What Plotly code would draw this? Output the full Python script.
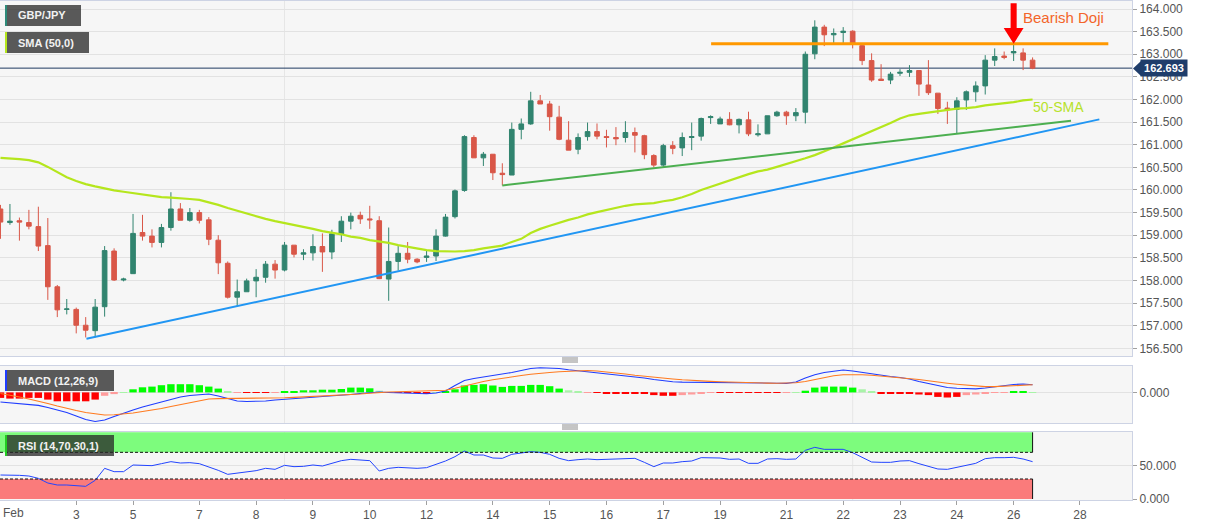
import plotly.graph_objects as go
from plotly.subplots import make_subplots

# ---------------- data (GBP/JPY, 4H candles) ----------------
opens = [159.58,159.28,159.32,159.28,159.19,158.77,157.86,157.36,157.36,157.01,
         156.89,157.42,158.65,158.01,158.15,159.06,158.98,158.84,159.17,159.58,
         159.33,159.50,159.34,158.89,158.38,157.63,157.75,157.99,158.07,158.36,
         158.23,158.78,158.58,158.61,158.75,158.63,159.03,159.31,159.44,159.36,
         159.32,158.03,158.42,158.60,158.47,158.51,158.54,158.98,159.41,159.99,
         161.16,160.71,160.79,160.37,160.33,161.34,161.46,161.97,161.90,161.61,
         161.10,160.90,161.18,161.29,161.18,161.16,161.16,161.27,161.20,160.76,
         160.55,160.98,160.93,161.16,161.19,161.60,161.46,161.56,161.44,161.55,
         161.22,161.24,161.64,161.72,161.64,161.72,163.01,163.60,163.43,163.48,
         163.51,163.19,162.86,162.45,162.43,162.58,162.60,162.64,162.32,162.14,
         161.81,161.78,161.99,162.17,162.30,162.87,162.96,163.03,163.03,162.87]
highs = [159.67,159.69,159.39,159.56,159.63,159.38,157.90,157.59,157.40,157.19,
         157.59,158.76,158.71,158.06,159.47,159.45,159.13,159.25,159.95,159.71,
         159.60,159.56,159.40,159.00,158.42,158.02,158.04,158.25,158.43,158.45,
         158.85,158.78,158.69,159.02,159.04,159.12,159.42,159.50,159.52,159.65,
         159.42,159.17,158.76,158.85,158.49,158.66,159.13,159.47,160.01,161.21,
         161.21,160.84,160.79,160.59,161.49,161.58,162.17,162.10,161.97,161.86,
         161.52,161.25,161.49,161.47,161.33,161.39,161.52,161.38,161.22,160.79,
         161.02,161.08,161.27,161.49,161.60,161.65,161.62,161.72,161.58,161.73,
         161.45,161.64,161.75,161.75,161.81,163.06,163.75,163.65,163.57,163.60,
         163.53,163.24,163.02,162.78,162.61,162.67,162.76,162.65,162.87,162.14,
         161.95,162.05,162.20,162.40,162.98,163.13,163.06,163.24,163.13,162.93]
lows = [158.92,159.23,158.88,159.13,158.65,157.57,157.19,157.25,156.83,156.74,
        156.74,157.20,157.99,157.98,158.15,158.88,158.73,158.73,159.10,159.33,
        159.30,159.26,158.78,158.14,157.60,157.43,157.75,157.63,157.95,158.04,
        158.20,158.51,158.45,158.44,158.19,158.47,158.85,159.13,159.25,159.14,
        158.03,157.55,158.22,158.38,158.38,158.41,158.43,158.97,159.37,159.96,
        160.71,160.53,160.22,160.10,160.33,161.12,161.44,161.90,161.31,161.10,
        160.88,160.79,161.09,161.12,160.94,160.99,161.05,160.83,160.68,160.50,
        160.50,160.79,160.75,160.88,161.09,161.46,161.46,161.43,161.25,161.19,
        161.18,161.24,161.62,161.44,161.52,161.47,162.89,163.18,163.25,163.25,
        163.13,162.76,162.39,162.42,162.34,162.52,162.50,162.08,162.10,161.68,
        161.46,161.24,161.77,161.95,162.11,162.74,162.89,162.85,162.65,162.67]
closes = [159.29,159.31,159.29,159.20,158.76,157.86,157.35,157.37,157.01,156.90,
          157.41,158.66,158.01,158.03,159.04,158.98,158.84,159.17,159.58,159.33,
          159.50,159.33,158.91,158.39,157.63,157.75,157.99,158.07,158.36,158.23,
          158.78,158.58,158.61,158.75,158.63,159.03,159.31,159.42,159.36,159.34,
          158.04,158.42,158.60,158.47,158.41,158.54,158.98,159.40,159.98,161.18,
          160.71,160.79,160.38,160.34,161.34,161.46,161.97,161.90,161.62,161.12,
          160.88,161.16,161.29,161.19,161.16,161.13,161.27,161.21,160.78,160.55,
          160.98,160.92,161.16,161.18,161.58,161.62,161.57,161.44,161.56,161.24,
          161.24,161.64,161.72,161.64,161.71,163.00,163.60,163.43,163.46,163.51,
          163.24,162.86,162.43,162.42,162.56,162.60,162.64,162.34,162.15,161.80,
          161.77,161.97,162.17,162.30,162.87,162.95,162.93,163.06,162.87,162.693]
sma50 = [160.71,160.70,160.68,160.66,160.61,160.51,160.40,160.28,160.20,160.13,
         160.08,160.03,159.99,159.96,159.93,159.90,159.86,159.84,159.83,159.82,
         159.80,159.78,159.73,159.67,159.60,159.54,159.47,159.41,159.36,159.31,
         159.27,159.23,159.18,159.14,159.09,159.06,159.02,158.97,158.94,158.89,
         158.86,158.83,158.78,158.74,158.71,158.67,158.65,158.64,158.64,158.65,
         158.67,158.71,158.74,158.77,158.85,158.92,159.05,159.14,159.21,159.28,
         159.34,159.39,159.46,159.51,159.56,159.60,159.65,159.68,159.70,159.71,
         159.75,159.78,159.84,159.91,160.00,160.07,160.14,160.22,160.29,160.35,
         160.41,160.45,160.51,160.57,160.63,160.70,160.77,160.85,160.94,161.03,
         161.12,161.20,161.29,161.39,161.48,161.58,161.65,161.68,161.71,161.73,
         161.77,161.80,161.81,161.83,161.87,161.89,161.92,161.94,161.98,162.00]
macd_line = [-0.096,-0.106,-0.111,-0.121,-0.130,-0.151,-0.176,-0.201,-0.236,-0.271,
             -0.291,-0.276,-0.241,-0.206,-0.176,-0.146,-0.121,-0.096,-0.071,-0.046,
             -0.031,-0.021,-0.016,-0.036,-0.061,-0.086,-0.091,-0.089,-0.086,-0.076,
             -0.071,-0.064,-0.056,-0.049,-0.041,-0.036,-0.028,-0.021,-0.011,-0.001,
             0.004,-0.001,-0.006,-0.006,-0.011,-0.014,-0.006,0.014,0.069,0.119,
             0.139,0.154,0.169,0.179,0.199,0.219,0.239,0.247,0.244,0.239,
             0.226,0.216,0.206,0.199,0.189,0.179,0.171,0.159,0.144,0.129,
             0.116,0.107,0.103,0.102,0.102,0.103,0.103,0.103,0.103,0.101,
             0.098,0.095,0.092,0.090,0.104,0.144,0.176,0.199,0.214,0.224,
             0.214,0.199,0.184,0.169,0.159,0.149,0.134,0.109,0.089,0.064,
             0.049,0.041,0.036,0.035,0.044,0.056,0.070,0.079,0.084,0.076]
signal_line = [-0.011,-0.026,-0.046,-0.066,-0.086,-0.111,-0.136,-0.161,-0.181,-0.201,
               -0.216,-0.226,-0.224,-0.216,-0.206,-0.191,-0.179,-0.161,-0.141,-0.121,
               -0.101,-0.081,-0.066,-0.062,-0.061,-0.061,-0.062,-0.062,-0.061,-0.058,
               -0.054,-0.050,-0.046,-0.042,-0.038,-0.034,-0.028,-0.022,-0.016,-0.009,
               -0.001,0.004,0.006,0.008,0.010,0.012,0.014,0.022,0.041,0.064,
               0.089,0.109,0.126,0.142,0.156,0.169,0.181,0.192,0.199,0.206,
               0.212,0.217,0.219,0.214,0.206,0.196,0.184,0.172,0.161,0.151,
               0.142,0.134,0.126,0.119,0.114,0.110,0.106,0.102,0.099,0.097,
               0.095,0.093,0.092,0.092,0.096,0.109,0.129,0.149,0.166,0.176,
               0.178,0.176,0.171,0.164,0.156,0.148,0.139,0.129,0.116,0.102,
               0.092,0.082,0.072,0.064,0.058,0.058,0.062,0.067,0.072,0.076]
histogram = [-0.055,-0.062,-0.062,-0.055,-0.055,-0.072,-0.089,-0.089,-0.089,-0.089,
             -0.072,-0.034,-0.017,0.002,0.031,0.051,0.058,0.072,0.082,0.082,
             0.082,0.072,0.058,0.038,0.014,-0.004,-0.004,-0.004,-0.004,-0.002,
             0.014,0.014,0.021,0.021,0.027,0.027,0.034,0.048,0.048,0.041,
             0.017,0.003,-0.004,-0.004,-0.004,-0.007,0.001,0.014,0.031,0.069,
             0.075,0.082,0.069,0.055,0.065,0.065,0.075,0.075,0.062,0.038,
             0.021,0.007,-0.002,-0.004,-0.007,-0.010,-0.010,-0.010,-0.014,-0.027,
             -0.034,-0.034,-0.027,-0.021,-0.010,-0.004,-0.004,-0.004,-0.004,-0.004,
             -0.004,-0.004,-0.004,-0.002,0.001,0.017,0.048,0.058,0.058,0.058,
             0.048,0.031,0.007,-0.007,-0.007,-0.010,-0.010,-0.021,-0.027,-0.045,
             -0.051,-0.045,-0.027,-0.021,-0.010,-0.004,-0.001,0.007,0.007,0.001]
rsi = [36,36,35.5,34.5,31,24,21,21,20.5,19,
       28,46,41,41,51,50.5,50,53,56,54,
       54.5,53,48.5,43,37,38.5,41,42.5,46,44.5,
       50.5,48.5,49,51,49.5,54,57.5,59.5,59,57.5,
       42,46,47.5,46.5,46,47,52,57,63.5,72,
       66,66,61.5,61,67,69,71,70,67,61,
       57.5,59,60,59,59.5,60,60.5,61,55,48.5,
       54,54,56,57,62,62,61.5,59.5,60,53.5,
       53.5,60,60.5,59.5,60,73,77.5,74.5,74.5,74.5,
       69.5,62,55.5,55,55,57,57.5,53,49.5,45,
       44.5,47.5,51,53.5,60.5,62,62,62.5,60,56]
tick_pos = [8, 14, 21, 27, 33, 39, 45, 52, 58, 64, 70, 76, 83, 89, 95, 101, 107, 114]
tick_text = ["3", "5", "7", "8", "9", "10", "12", "14", "15", "16", "17",
             "19", "21", "22", "23", "24", "26", "28"]
first_label = "Feb"
last_price = 162.693
resistance = [(75.05, 163.23), (117.0, 163.23)]
rising_support = [(9.08, 156.71), (116.05, 161.56)]
minor_support = [(53.0, 160.10), (113.06, 161.53)]
doji_index = 107

# ---------------- geometry helpers ----------------
W, H = 1207, 526
ML, MR, MT, MB = 0, 75, 1, 26
PW = W - ML - MR
PH = H - MT - MB

def pxx(x):
    return (x - ML) / PW

def pxy(y):
    return (H - MB - y) / PH

FONT = "Liberation Sans, Arial, sans-serif"
GREEN = "#31846f"
RED = "#d95748"
SMA_C = "#b5e61d"
idx = list(range(len(closes)))
XR = [-0.05, 119.5]

fig = make_subplots(rows=3, cols=1, shared_xaxes=True, vertical_spacing=0)

fig.add_trace(go.Candlestick(
    x=idx, open=opens, high=highs, low=lows, close=closes,
    increasing=dict(line=dict(color=GREEN, width=1), fillcolor=GREEN),
    decreasing=dict(line=dict(color=RED, width=1), fillcolor=RED),
    whiskerwidth=0, showlegend=False, hoverinfo="skip"), row=1, col=1)
fig.add_trace(go.Scatter(x=idx, y=sma50, mode="lines",
                         line=dict(color=SMA_C, width=2.2), showlegend=False,
                         hoverinfo="skip"), row=1, col=1)

bar_colors = []
for i, v in enumerate(histogram):
    prev = histogram[i - 1] if i > 0 else v
    pale = abs(v) < 0.036 and abs(v) < abs(prev)
    if v >= 0:
        bar_colors.append("#a8f3a8" if pale else "#00ff00")
    else:
        bar_colors.append("#ff9c9c" if pale else "#ff0000")
fig.add_trace(go.Bar(x=idx, y=histogram, width=0.78, marker=dict(color=bar_colors, line=dict(width=0)),
                     showlegend=False, hoverinfo="skip"), row=2, col=1)
fig.add_trace(go.Scatter(x=idx, y=macd_line, mode="lines", line=dict(color="#1f3cff", width=1.1),
                         showlegend=False, hoverinfo="skip"), row=2, col=1)
fig.add_trace(go.Scatter(x=idx, y=signal_line, mode="lines", line=dict(color="#ff7a1f", width=1.1),
                         showlegend=False, hoverinfo="skip"), row=2, col=1)
fig.add_trace(go.Scatter(x=idx, y=rsi, mode="lines", line=dict(color="#2244ff", width=1),
                         showlegend=False, hoverinfo="skip"), row=3, col=1)

axis_line = "#cdd3e4"
tickfont = dict(family=FONT, size=12, color="#555555")
fig.update_xaxes(range=XR, showline=True, linecolor=axis_line, mirror=True, showgrid=False,
                 zeroline=False, rangeslider_visible=False, fixedrange=True)
fig.update_xaxes(showticklabels=False, ticks="", row=1, col=1)
fig.update_xaxes(showticklabels=False, ticks="", row=2, col=1)
fig.update_xaxes(tickmode="array", tickvals=tick_pos, ticktext=tick_text, ticks="outside",
                 ticklen=4, tickcolor="#a0a0a0", tickfont=tickfont, row=3, col=1)
fig.update_yaxes(side="right", showline=True, linecolor=axis_line, mirror=True, ticks="outside",
                 ticklen=4, tickcolor="#a0a0a0", gridcolor="#e2e2e2", zeroline=False,
                 tickfont=tickfont)
fig.update_layout(
    yaxis=dict(domain=[pxy(356), pxy(1)], range=[156.33, 164.177], dtick=0.5, tick0=156.5,
               tickformat=".3f"),
    yaxis2=dict(domain=[pxy(423), pxy(366)], range=[-0.306, 0.264], tickmode="array",
                tickvals=[0], ticktext=["0.000"]),
    yaxis3=dict(domain=[pxy(500), pxy(432)], range=[-1.5, 100.5], tickmode="array",
                tickvals=[0, 50], ticktext=["0.000", "50.000"]),
)

shapes = []
# faint vertical separators
for xr_, yr in [("x", "y"), ("x2", "y2"), ("x3", "y3")]:
    for xv in [30, 90]:
        shapes.append(dict(type="line", xref=xr_, yref=yr + " domain", x0=xv, x1=xv, y0=0, y1=1,
                           line=dict(color="#e6e6e6", width=1), layer="below"))
# RSI bands
shapes.append(dict(type="rect", xref="x3", yref="y3", x0=XR[0], x1=idx[-1], y0=70, y1=100,
                   fillcolor="#7dfc7d", line=dict(width=0), layer="below"))
shapes.append(dict(type="rect", xref="x3", yref="y3", x0=XR[0], x1=idx[-1], y0=0, y1=30,
                   fillcolor="#fa7b7b", line=dict(width=0), layer="below"))
for lv in [70, 30]:
    shapes.append(dict(type="line", xref="x3", yref="y3", x0=XR[0], x1=idx[-1], y0=lv, y1=lv,
                       line=dict(color="#111111", width=1, dash="3px,2px"), layer="above"))
for y0, y1 in [(70, 100), (0, 30)]:
    shapes.append(dict(type="line", xref="x3", yref="y3", x0=idx[-1], x1=idx[-1], y0=y0, y1=y1,
                       line=dict(color="#111111", width=1), layer="above"))
# current price line
shapes.append(dict(type="line", xref="x", yref="y", x0=XR[0], x1=XR[1], y0=last_price,
                   y1=last_price, line=dict(color="#1f3a60", width=1), layer="below"))
# trend lines
for pts, col, wd in [(rising_support, "#2196f3", 2), (minor_support, "#4caf50", 2),
                     (resistance, "#ff9800", 3)]:
    shapes.append(dict(type="line", xref="x", yref="y", x0=pts[0][0], y0=pts[0][1],
                       x1=pts[1][0], y1=pts[1][1], line=dict(color=col, width=wd), layer="above"))
# red arrow pointing at the doji
d = doji_index
arrow_path = (f"M {d-0.32},164.13 L {d+0.32},164.13 L {d+0.32},163.58 L {d+1.05},163.58 "
              f"L {d},{highs[d]-0.01} L {d-1.05},163.58 L {d-0.32},163.58 Z")
shapes.append(dict(type="path", xref="x", yref="y", path=arrow_path, fillcolor="#ff0000",
                   line=dict(width=0), layer="above"))
# label boxes (semi-transparent dark) with coloured strips
boxes = [(5, 81, 5, 26, "#2e8b7a"), (5, 89, 32, 53, SMA_C), (5, 114, 370, 391, "#1f3cff"),
         (5, 114, 435, 456, "#22cc22")]
for x0, x1, y0, y1, sc in boxes:
    shapes.append(dict(type="rect", xref="paper", yref="paper", x0=pxx(x0), x1=pxx(x1),
                       y0=pxy(y1), y1=pxy(y0), fillcolor="rgba(40,40,40,0.76)",
                       line=dict(width=0), layer="above"))
    shapes.append(dict(type="rect", xref="paper", yref="paper", x0=pxx(x0), x1=pxx(x0 + 2),
                       y0=pxy(y1), y1=pxy(y0), fillcolor=sc, line=dict(width=0), layer="above"))
# pane handles
for hy in [360, 427]:
    for dy in [-2, 0, 2]:
        shapes.append(dict(type="line", xref="paper", yref="paper", x0=pxx(562), x1=pxx(578),
                           y0=pxy(hy + dy), y1=pxy(hy + dy), line=dict(color="#8a8a8a", width=1),
                           layer="above"))
# price tag pointer
shapes.append(dict(type="path", xref="paper", yref="paper",
                   path=f"M {pxx(1133)},{pxy(68.5)} L {pxx(1141)},{pxy(61)} L {pxx(1141)},{pxy(76)} Z",
                   fillcolor="#1f3d6b", line=dict(width=0), layer="above"))
fig.update_layout(shapes=shapes)

ann = []
for text, x, y in [("GBP/JPY", 16, 15.5), ("SMA (50,0)", 16, 42.5), ("MACD (12,26,9)", 16, 380.5),
                   ("RSI (14,70,30,1)", 16, 445.5)]:
    ann.append(dict(text=f"<b>{text}</b>", xref="paper", yref="paper", x=pxx(x), y=pxy(y),
                    xanchor="left", yanchor="middle", showarrow=False,
                    font=dict(family=FONT, size=11, color="#f2f2f2")))
ann.append(dict(text=first_label, xref="paper", yref="paper", x=pxx(1), y=pxy(513),
                xanchor="left", yanchor="middle", showarrow=False,
                font=dict(family=FONT, size=12, color="#555555")))
ann.append(dict(text=f"<b>{last_price:.3f}</b>", xref="paper", yref="y", x=pxx(1164),
                y=last_price, xanchor="center", yanchor="middle", showarrow=False,
                bgcolor="#1f3d6b", width=46, height=16, borderpad=0,
                font=dict(family=FONT, size=11, color="#ffffff")))
ann.append(dict(text="Bearish Doji", xref="x", yref="y", x=112.3, y=163.82, showarrow=False,
                xanchor="center", yanchor="middle", font=dict(family=FONT, size=15, color="#f3652a")))
ann.append(dict(text="50-SMA", xref="x", yref="y", x=111.7, y=161.83, showarrow=False,
                xanchor="center", yanchor="middle", font=dict(family=FONT, size=14, color="#b7e22a")))
fig.update_layout(annotations=ann)

fig.update_layout(width=W, height=H, margin=dict(l=ML, r=MR, t=MT, b=MB),
                  paper_bgcolor="#ffffff", plot_bgcolor="#f6f6f6", showlegend=False,
                  bargap=0.2, boxgap=0.3, font=dict(family=FONT))

fig.write_html("out.html")
